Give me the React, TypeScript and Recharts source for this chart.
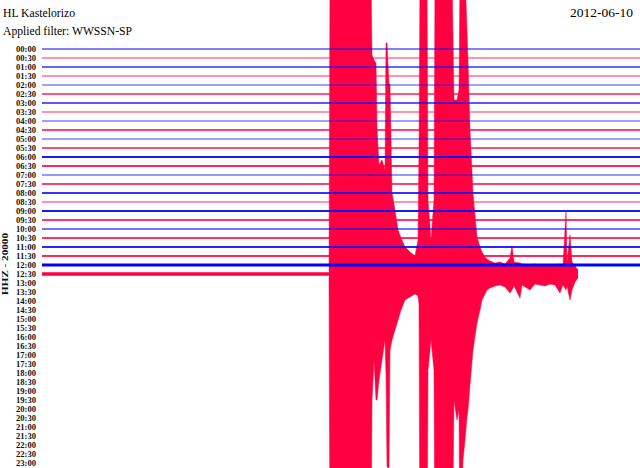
import React from 'react';
import { ComposedChart, Line, Area, XAxis, YAxis } from 'recharts';

const STATION = 'HL Kastelorizo';
const FILTER = 'Applied filter: WWSSN-SP';
const DATE = '2012-06-10';
const CHANNEL = 'HHZ - 20000';

const rowLabels = [
  '00:00', '00:30', '01:00', '01:30', '02:00', '02:30', '03:00', '03:30',
  '04:00', '04:30', '05:00', '05:30', '06:00', '06:30', '07:00', '07:30',
  '08:00', '08:30', '09:00', '09:30', '10:00', '10:30', '11:00', '11:30',
  '12:00', '12:30', '13:00', '13:30', '14:00', '14:30', '15:00', '15:30',
  '16:00', '16:30', '17:00', '17:30', '18:00', '18:30', '19:00', '19:30',
  '20:00', '20:30', '21:00', '21:30', '22:00', '22:30', '23:00', '23:30',
];

// number of half-hour rows that hold recorded data (00:00 .. 12:30)
const recordedRows = 26;

// minutes into the 12:30 row, and the trace's excursion above / below its baseline
const eventMinute = [
  14.398, 14.448, 16.505, 16.555, 16.656, 16.756, 16.806, 16.906, 17.057, 17.207,
  17.258, 17.308, 17.408, 17.458, 17.559, 17.709, 17.86, 18.01, 18.211, 18.462,
  18.712, 18.863, 18.913, 18.963, 19.314, 19.365, 19.515, 19.666, 19.716, 20.569,
  20.669, 20.819, 20.92, 20.97, 21.12, 21.221, 21.321, 21.371, 21.472, 21.622,
  21.823, 21.973, 22.074, 22.224, 22.324, 22.475, 22.726, 22.977, 23.227, 23.478,
  23.579, 23.679, 23.98, 24.08, 24.482, 24.732, 24.983, 25.234, 25.485, 25.736,
  25.987, 26.137, 26.288, 26.338, 26.488, 26.589, 26.739, 26.89,
];
const eventUp = [
  3, 300, 300, 219, 214, 211, 147, 109, 114, 104,
  231, 231, 190, 190, 81, 64, 44, 36, 27, 22,
  18, 34, 124, 300, 300, 74, 34, 74, 300, 300,
  174, 174, 184, 300, 300, 300, 244, 214, 144, 81,
  37, 27, 22, 17, 15, 13, 11, 12, 10, 16,
  28, 12, 11, 10, 9, 10, 8, 9, 8, 9,
  10, 9, 62, 12, 39, 12, 8, 4,
];
const eventDown = [
  3, 300, 300, 126, 86, 126, 126, 106, 86, 66,
  100, 193, 194, 76, 66, 56, 46, 36, 26, 23,
  20, 22, 30, 300, 300, 96, 66, 96, 300, 300,
  126, 146, 136, 300, 186, 166, 143, 136, 111, 76,
  49, 36, 26, 20, 16, 14, 12, 11, 13, 19,
  16, 12, 24, 11, 16, 10, 11, 12, 10, 11,
  19, 11, 16, 12, 26, 16, 8, 4,
];

// ---- styling / layout constants ----
const ROW = 9; // axis units between rows
const BLUE = '#0000ff';
const RED = '#ff0040';
const ROW_STYLE: [number, number][] = [
  [2, 0.5], [2, 0.42], [2, 0.6], [2, 0.42], [1.5, 0.5], [2, 0.65], [2, 0.65], [2, 0.42],
  [1.5, 0.5], [2, 0.75], [1.5, 0.5], [2, 0.7], [2, 0.9], [2, 0.85], [1.5, 0.55], [2, 0.75],
  [2, 0.8], [1.5, 0.55], [2, 0.9], [2, 0.8], [2, 0.55], [2, 0.8], [2, 0.85], [2, 0.85],
  [3, 1], [3.5, 1],
];
const TITLE_FONT = '"Liberation Serif", "DejaVu Serif", serif';
const TICK_FONT = '"Liberation Serif", "DejaVu Serif", serif';

const rows = rowLabels.slice(0, recordedRows).map((label, i) => ({
  label,
  i,
  data: [
    { t: 0, v: i * ROW },
    { t: i === recordedRows - 1 ? eventMinute[0] : 30, v: i * ROW },
  ],
}));

const base = (recordedRows - 1) * ROW;
const eventData = eventMinute.map((t, k) => ({
  t,
  r: [base - eventUp[k], base + eventDown[k]],
}));

const ticks = rowLabels.map((_, i) => i * ROW).filter((v) => v <= 46 * ROW);

const Tick = (props: any) => {
  const { x, y, payload } = props;
  const label = rowLabels[Math.round(payload.value / ROW)];
  return (
    <text
      x={x - 4}
      y={y + 3}
      textAnchor="end"
      fontFamily={TICK_FONT}
      fontSize={9}
      fontWeight="bold"
      fill="#111"
      textLength={20}
      lengthAdjust="spacingAndGlyphs"
    >
      {label}
    </text>
  );
};

export default function App() {
  return (
    <div style={{ position: 'absolute', left: 0, top: 0, width: 640, height: 468, background: '#fff', overflow: 'hidden' }}>
      <ComposedChart width={640} height={468} margin={{ top: 0, right: 0, bottom: 0, left: 0 }}>
        <XAxis type="number" dataKey="t" domain={[0, 30]} hide allowDataOverflow />
        <YAxis
          type="number"
          width={42}
          domain={[-49, 419]}
          reversed
          allowDataOverflow
          ticks={ticks}
          interval={0}
          axisLine={false}
          tickLine={false}
          tickSize={0}
          tick={<Tick />}
        />
        {rows.map((r) => (
          <Line
            key={r.label}
            data={r.data}
            dataKey="v"
            type="linear"
            stroke={r.i % 2 === 0 ? BLUE : RED}
            strokeWidth={ROW_STYLE[r.i][0]}
            strokeOpacity={ROW_STYLE[r.i][1]}
            dot={false}
            activeDot={false}
            isAnimationActive={false}
          />
        ))}
        <Area
          data={eventData}
          dataKey="r"
          type="linear"
          fill={RED}
          fillOpacity={1}
          stroke={RED}
          strokeWidth={0.5}
          dot={false}
          activeDot={false}
          isAnimationActive={false}
        />
      </ComposedChart>
      <svg width={640} height={468} style={{ position: 'absolute', left: 0, top: 0, pointerEvents: 'none' }}>
        <text x={3} y={17} fontFamily={TITLE_FONT} fontSize={12} fill="#000" textLength={72} lengthAdjust="spacingAndGlyphs">{STATION}</text>
        <text x={3} y={35} fontFamily={TITLE_FONT} fontSize={12} fill="#000" textLength={129} lengthAdjust="spacingAndGlyphs">{FILTER}</text>
        <text x={570} y={17} fontFamily={TITLE_FONT} fontSize={12} fill="#000" textLength={63} lengthAdjust="spacingAndGlyphs">{DATE}</text>
        <text
          transform="translate(8,264) rotate(-90)"
          textAnchor="middle"
          fontFamily={TICK_FONT}
          fontSize={9}
          fontWeight="bold"
          fill="#111"
          textLength={62}
          lengthAdjust="spacingAndGlyphs"
        >
          {CHANNEL}
        </text>
      </svg>
    </div>
  );
}
